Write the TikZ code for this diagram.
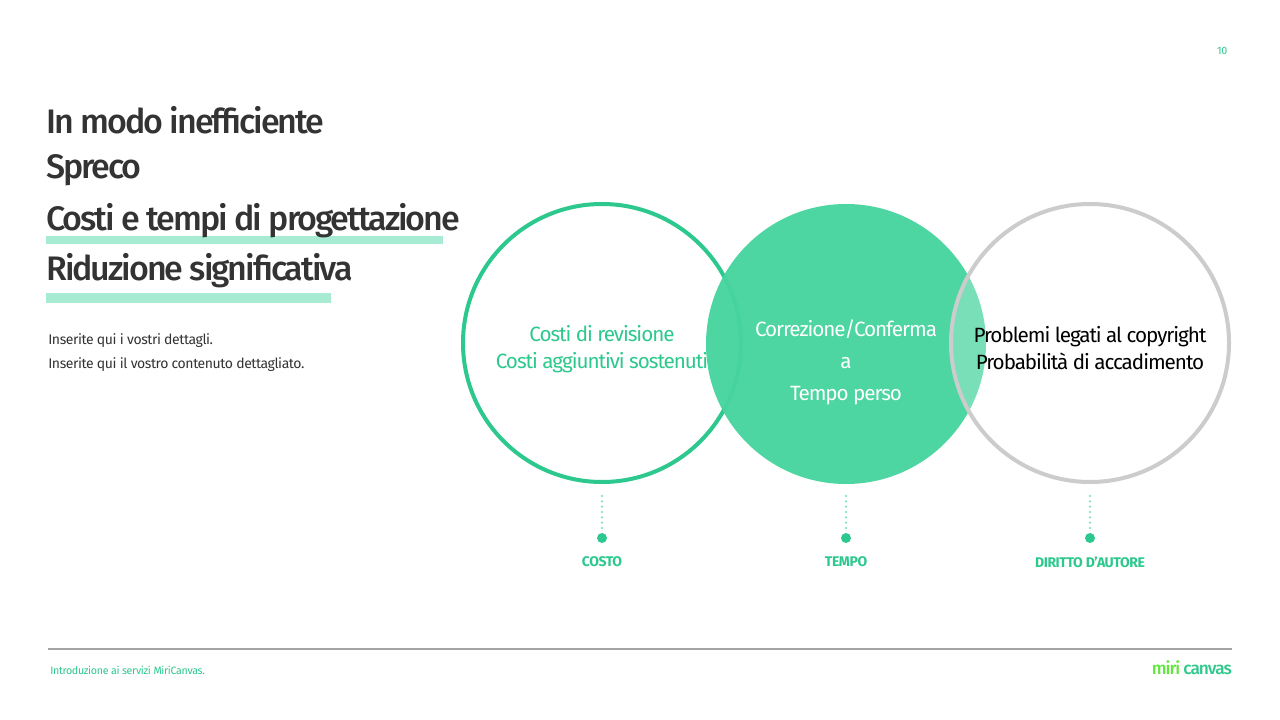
\documentclass[tikz,border=0pt]{standalone}
\usepackage{fontspec}
\setmainfont{Fira Sans}[LetterSpace=-3]
\newfontfamily\med{Fira Sans Medium}[LetterSpace=-6]
\newfontfamily\medc{Fira Sans}[LetterSpace=-5]
\definecolor{gr}{HTML}{2DC88E}
\definecolor{grf}{HTML}{48D4A0}
\definecolor{hl}{HTML}{A8EBD3}
\definecolor{tx}{HTML}{333333}
\definecolor{gy}{HTML}{CCCCCC}
\begin{document}
\begin{tikzpicture}[x=0.75pt,y=-0.75pt,
  title/.style={anchor=west,text=tx,font=\med\fontsize{25.5}{27}\selectfont,inner sep=0},
  small/.style={anchor=west,text=tx,font=\fontsize{10.5}{12}\selectfont,inner sep=0},
  lab/.style={text=gr,font=\bfseries\fontsize{10.5}{12}\selectfont,inner sep=0},
  ctext/.style={align=center,font=\medc\fontsize{15.5}{23}\selectfont,inner sep=0}]
\useasboundingbox[fill=white] (0,0) rectangle (1280,720);
\node[anchor=east,text=gr,font=\fontsize{8}{9}\selectfont] (pg) at (1232,51) {10};
\fill[hl] (46,236) rectangle (443,244);
\fill[hl] (46,293) rectangle (331,303);
\node[title] (t1) at (46,120) {In modo inefficiente};
\node[title] (t2) at (46,170) {Spreco};
\node[title] (t3) at (46,221) {Costi e tempi di progettazione};
\node[title] (t4) at (46,271) {Riduzione significativa};
\node[small] (s1) at (48,341) {Inserite qui i vostri dettagli.};
\node[small] (s2) at (48,365) {Inserite qui il vostro contenuto dettagliato.};
% circles
\draw[gr,line width=3pt] (602,343) circle (139);
\node[ctext,text=gr] (c1) at (602,349) {Costi di revisione\\[-3pt]Costi aggiuntivi sostenuti};
\fill[grf,fill opacity=0.97] (846,344) circle (140);
\node[ctext,text=white,font=\medc\fontsize{15.5}{24}\selectfont] (c2) at (846,362) {Correzione/Conferma\\a\\Tempo perso};
\fill[white,fill opacity=0.25] (1090,343) circle (139);
\draw[gy,line width=3pt] (1090,343) circle (139);
\node[ctext,text=black] (c3) at (1090,348) {Problemi legati al copyright\\[-3pt]Probabilità di accadimento};
% markers
\foreach \x/\n/\t in {602/a/COSTO,846/b/TEMPO,1090/c/DIRITTO D'AUTORE}{
  \draw[hl!80!gr,line width=2pt,dash pattern=on 0pt off 4pt,line cap=round] (\x,496) -- (\x,528);
  \fill[gr] (\x,538) circle (5);
  \node[lab] (l\n) at (\x,562) {\t};
}
\draw[gy!80!black,line width=1pt] (48,649) -- (1232,649);
\node[anchor=west,text=gr,font=\fontsize{8}{9}\selectfont,inner sep=0] (ft) at (50,670) {Introduzione ai servizi MiriCanvas.};
\node[anchor=east,inner sep=0,font=\med\fontsize{13}{14}\selectfont] (logo) at (1232,668) {\textcolor{gr!70!green!60!lime}{miri} \textcolor{gr}{canvas}};
\end{tikzpicture}
\end{document}
